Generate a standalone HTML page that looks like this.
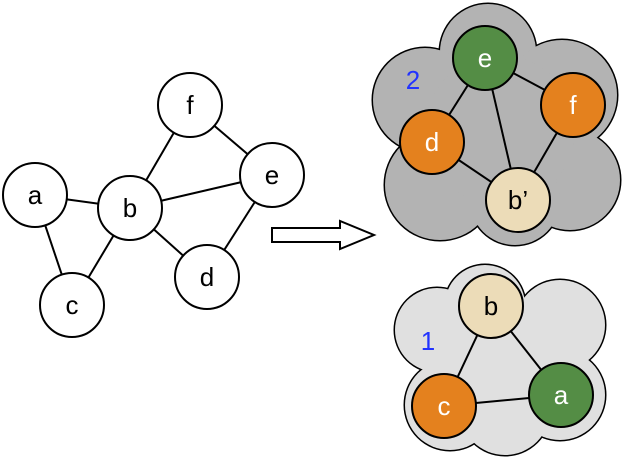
<!DOCTYPE html>
<html><head><style>body{margin:0;background:#fff}svg{display:block}</style></head><body>
<svg width="632" height="463" viewBox="0 0 632 463" xmlns="http://www.w3.org/2000/svg" font-family="Liberation Sans, Arial, sans-serif">
<!-- cloud 2 -->
<g stroke="#000" stroke-width="3" fill="#b3b3b3">
<circle cx="488" cy="52" r="48"/><circle cx="425" cy="100" r="52"/><circle cx="562" cy="95" r="55"/>
<circle cx="440" cy="185" r="55"/><circle cx="570" cy="180" r="50"/><circle cx="515" cy="200" r="45"/><circle cx="500" cy="130" r="75"/>
</g>
<g fill="#b3b3b3">
<circle cx="488" cy="52" r="48"/><circle cx="425" cy="100" r="52"/><circle cx="562" cy="95" r="55"/>
<circle cx="440" cy="185" r="55"/><circle cx="570" cy="180" r="50"/><circle cx="515" cy="200" r="45"/><circle cx="500" cy="130" r="75"/>
</g>
<!-- cloud 1 -->
<g stroke="#000" stroke-width="3" fill="#e0e0e0">
<circle cx="485" cy="305" r="40"/><circle cx="437" cy="330" r="42"/><circle cx="560" cy="325" r="45"/>
<circle cx="450" cy="405" r="45"/><circle cx="560" cy="395" r="45"/><circle cx="505" cy="410" r="45"/><circle cx="500" cy="360" r="60"/>
</g>
<g fill="#e0e0e0">
<circle cx="485" cy="305" r="40"/><circle cx="437" cy="330" r="42"/><circle cx="560" cy="325" r="45"/>
<circle cx="450" cy="405" r="45"/><circle cx="560" cy="395" r="45"/><circle cx="505" cy="410" r="45"/><circle cx="500" cy="360" r="60"/>
</g>
<!-- edges -->
<g stroke="#000" stroke-width="2">
<line x1="35" y1="195" x2="130" y2="208"/><line x1="35" y1="195" x2="72" y2="305"/><line x1="130" y1="208" x2="72" y2="305"/>
<line x1="130" y1="208" x2="190" y2="105"/><line x1="130" y1="208" x2="272" y2="175"/><line x1="130" y1="208" x2="207" y2="277"/>
<line x1="190" y1="105" x2="272" y2="175"/><line x1="272" y1="175" x2="207" y2="277"/>
<line x1="485" y1="58" x2="573" y2="105"/><line x1="485" y1="58" x2="432" y2="142"/><line x1="485" y1="58" x2="518" y2="200"/>
<line x1="432" y1="142" x2="518" y2="200"/><line x1="573" y1="105" x2="518" y2="200"/>
<line x1="491" y1="306" x2="444" y2="406"/><line x1="491" y1="306" x2="561" y2="395"/><line x1="444" y1="406" x2="561" y2="395"/>
</g>
<!-- nodes -->
<g stroke="#000" stroke-width="2" fill="#fff">
<circle cx="35" cy="195" r="32"/><circle cx="130" cy="208" r="32"/><circle cx="72" cy="305" r="32"/>
<circle cx="190" cy="105" r="32"/><circle cx="272" cy="175" r="32"/><circle cx="207" cy="277" r="32"/>
<circle cx="485" cy="58" r="32" fill="#548d45"/><circle cx="573" cy="105" r="32" fill="#e4811e"/>
<circle cx="432" cy="142" r="32" fill="#e4811e"/><circle cx="518" cy="200" r="32" fill="#ecdcb8"/>
<circle cx="491" cy="306" r="32" fill="#ecdcb8"/><circle cx="444" cy="406" r="32" fill="#e4811e"/><circle cx="561" cy="395" r="32" fill="#548d45"/>
</g>
<g font-size="26" text-anchor="middle" fill="#000">
<text x="35" y="204">a</text><text x="130" y="217">b</text><text x="72" y="314">c</text>
<text x="190" y="114">f</text><text x="272" y="184">e</text><text x="207" y="286">d</text>
<text x="518" y="209">b’</text><text x="491" y="315">b</text>
<g fill="#fff"><text x="485" y="67">e</text><text x="573" y="114">f</text><text x="432" y="151">d</text><text x="444" y="415">c</text><text x="561" y="404">a</text></g>
<g fill="#2233ff"><text x="413" y="89">2</text><text x="428" y="350">1</text></g>
</g>
<!-- arrow -->
<polygon points="272,228 340,228 340,221 374,235 340,249 340,242 272,242" fill="#fff" stroke="#000" stroke-width="2"/>
</svg>
</body></html>
